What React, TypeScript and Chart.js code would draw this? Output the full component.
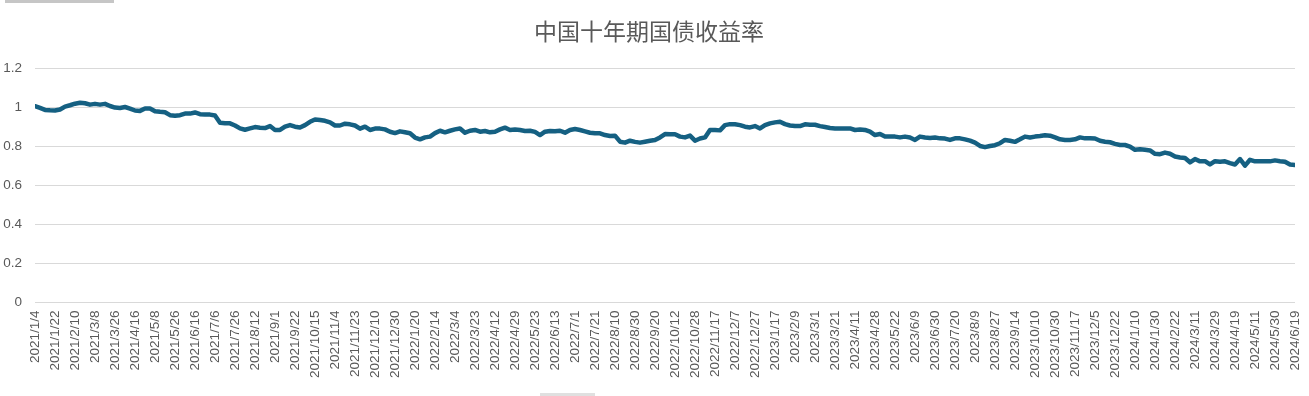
import React, { useEffect, useRef } from "react";
import { Chart, registerables } from "chart.js";

Chart.register(...registerables);

const chartTitle = "中国十年期国债收益率";

const tickLabels: string[] = [
  "2021/1/4", "2021/1/22", "2021/2/10", "2021/3/8", "2021/3/26", "2021/4/16", "2021/5/8", "2021/5/26",
  "2021/6/16", "2021/7/6", "2021/7/26", "2021/8/12", "2021/9/1", "2021/9/22", "2021/10/15", "2021/11/4",
  "2021/11/23", "2021/12/10", "2021/12/30", "2022/1/20", "2022/2/14", "2022/3/4", "2022/3/23", "2022/4/12",
  "2022/4/29", "2022/5/23", "2022/6/13", "2022/7/1", "2022/7/21", "2022/8/10", "2022/8/30", "2022/9/20",
  "2022/10/12", "2022/10/28", "2022/11/17", "2022/12/7", "2022/12/27", "2023/1/17", "2023/2/9", "2023/3/1",
  "2023/3/21", "2023/4/11", "2023/4/28", "2023/5/22", "2023/6/9", "2023/6/30", "2023/7/20", "2023/8/9",
  "2023/8/27", "2023/9/14", "2023/10/10", "2023/10/30", "2023/11/17", "2023/12/5", "2023/12/22", "2024/1/10",
  "2024/1/30", "2024/2/22", "2024/3/11", "2024/3/29", "2024/4/19", "2024/5/11", "2024/5/30", "2024/6/19",
];

// readings per tick-label interval
const samplesPerTick = 4;

const yieldValues: number[] = [
  1.007, 0.998, 0.988, 0.986, 0.985, 0.99, 1.005, 1.012, 1.02, 1.025,
  1.022, 1.015, 1.019, 1.015, 1.019, 1.008, 1.0, 0.998, 1.003, 0.995,
  0.985, 0.983, 0.995, 0.995, 0.981, 0.978, 0.976, 0.961, 0.958, 0.961,
  0.969, 0.969, 0.975, 0.966, 0.964, 0.964, 0.959, 0.922, 0.92, 0.919,
  0.908, 0.893, 0.886, 0.893, 0.9, 0.897, 0.895, 0.905, 0.885, 0.885,
  0.902, 0.91, 0.902, 0.898, 0.91, 0.927, 0.939, 0.936, 0.932, 0.924,
  0.908, 0.908, 0.917, 0.914, 0.908, 0.892, 0.902, 0.885, 0.892, 0.892,
  0.888, 0.876, 0.869, 0.878, 0.873, 0.868, 0.846, 0.837, 0.847, 0.851,
  0.869, 0.881, 0.873, 0.881, 0.888, 0.893, 0.871, 0.881, 0.885, 0.876,
  0.88, 0.873, 0.876, 0.888, 0.897, 0.885, 0.888, 0.885, 0.88, 0.881,
  0.875, 0.859, 0.876, 0.88, 0.878, 0.881, 0.871, 0.885, 0.89, 0.885,
  0.878, 0.871, 0.868, 0.868, 0.859, 0.854, 0.856, 0.825, 0.82, 0.83,
  0.824, 0.82, 0.825, 0.83, 0.834, 0.847, 0.864, 0.863, 0.863, 0.851,
  0.847, 0.856, 0.83, 0.841, 0.847, 0.885, 0.885, 0.883, 0.91, 0.915,
  0.914, 0.91, 0.902, 0.898, 0.905, 0.893, 0.91, 0.919, 0.924, 0.927,
  0.915, 0.908, 0.905, 0.905, 0.914, 0.912, 0.912, 0.905, 0.9, 0.895,
  0.893, 0.893, 0.892, 0.893, 0.885, 0.888, 0.885, 0.876, 0.859, 0.864,
  0.851, 0.851, 0.851, 0.847, 0.851, 0.846, 0.834, 0.851, 0.846, 0.844,
  0.846, 0.842, 0.841, 0.834, 0.842, 0.842, 0.837, 0.83, 0.82, 0.803,
  0.797, 0.803, 0.807, 0.817, 0.834, 0.83, 0.824, 0.837, 0.851, 0.846,
  0.851, 0.854, 0.858, 0.856, 0.847, 0.837, 0.834, 0.834, 0.837, 0.847,
  0.842, 0.842, 0.841, 0.83, 0.825, 0.822, 0.814, 0.808, 0.808, 0.8,
  0.783, 0.786, 0.783, 0.78, 0.763, 0.761, 0.769, 0.763, 0.749, 0.744,
  0.741, 0.719, 0.736, 0.724, 0.725, 0.708, 0.725, 0.722, 0.724, 0.715,
  0.708, 0.736, 0.702, 0.732, 0.724, 0.725, 0.724, 0.724, 0.729, 0.725,
  0.722, 0.708, 0.705,
];

const yTicks: number[] = [0, 0.2, 0.4, 0.6, 0.8, 1, 1.2];

export default function App() {
  const canvasRef = useRef<HTMLCanvasElement | null>(null);

  useEffect(() => {
    if (!canvasRef.current) return;
    const points = yieldValues.map((v, i) => ({ x: i / samplesPerTick, y: v }));
    const chart = new Chart(canvasRef.current, {
      type: "line",
      data: {
        datasets: [
          {
            label: chartTitle,
            data: points,
            borderColor: "#156082",
            borderWidth: 4.5,
            pointRadius: 0,
            tension: 0,
            fill: false,
            borderJoinStyle: "round",
            borderCapStyle: "round",
          },
        ],
      },
      options: {
        animation: false,
        responsive: true,
        maintainAspectRatio: false,
        layout: { padding: { left: 3, right: 14, top: 0, bottom: 10 } },
        plugins: {
          legend: { display: false },
          tooltip: { enabled: false },
          title: {
            display: true,
            text: chartTitle,
            color: "#595959",
            font: { family: "'Noto Sans CJK SC', sans-serif", size: 23, weight: "normal" },
            padding: { top: 17, bottom: 24 },
          },
        },
        scales: {
          x: {
            type: "linear",
            min: 0,
            max: tickLabels.length - 1,
            afterBuildTicks: (axis: any) => {
              axis.ticks = tickLabels.map((_, i) => ({ value: i }));
            },
            afterFit: (axis: any) => {
              axis.paddingLeft = 0;
              axis.paddingRight = 0;
            },
            grid: { display: false, drawTicks: false },
            border: { display: false },
            ticks: {
              autoSkip: false,
              minRotation: 90,
              maxRotation: 90,
              padding: 8,
              color: "#595959",
              font: { family: "'Liberation Sans', Arial, sans-serif", size: 13.5 },
              callback: (v: any) => tickLabels[Math.round(Number(v))] ?? "",
            },
          },
          y: {
            min: 0,
            max: 1.2,
            afterBuildTicks: (axis: any) => {
              axis.ticks = yTicks.map((v) => ({ value: v }));
            },
            afterFit: (axis: any) => {
              axis.width = 32;
            },
            grid: { color: "#d9d9d9", lineWidth: 1, drawTicks: false },
            border: { display: false },
            ticks: {
              padding: 13,
              color: "#595959",
              font: { family: "'Liberation Sans', Arial, sans-serif", size: 13.5 },
              callback: (v: any) => String(Math.round(Number(v) * 10) / 10),
            },
          },
        },
      },
    });
    return () => chart.destroy();
  }, []);

  return (
    <div style={{ position: "fixed", left: 0, top: 0, width: 1309, height: 396, background: "#ffffff" }}>
      <canvas ref={canvasRef} />
      <div style={{ position: "absolute", left: 5, top: 0, width: 109, height: 3, background: "#c6c6c6" }} />
      <div style={{ position: "absolute", left: 540, top: 393, width: 55, height: 3, background: "#e0e0e0" }} />
    </div>
  );
}
